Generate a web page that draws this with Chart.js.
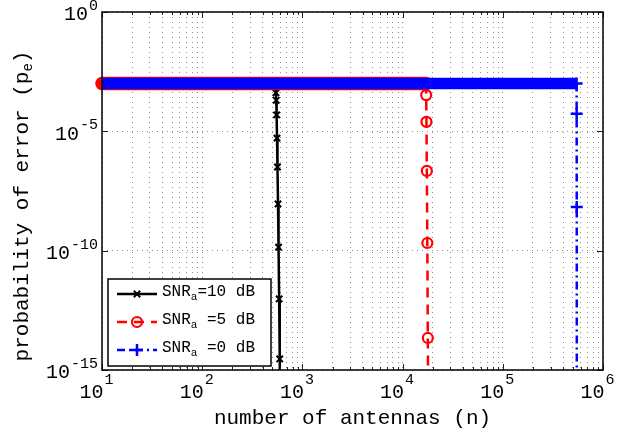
<!DOCTYPE html>
<html>
<head>
<meta charset="utf-8">
<script src="https://cdn.jsdelivr.net/npm/chart.js@4.4.1/dist/chart.umd.min.js"></script>
<style>
  html, body { margin: 0; padding: 0; background: #fff; }
  #chart-container { width: 623px; height: 434px; }
</style>
</head>
<body>
<div id="chart-container"><canvas id="errChart" width="623" height="434"></canvas></div>
<script>
// axis ticks
const xMajorTicks = [1e1, 1e2, 1e3, 1e4, 1e5, 1e6];
const xTickExp = ['1', '2', '3', '4', '5', '6'];
const xMinorSteps = [2, 3, 4, 5, 6, 7, 8, 9];
const yMajorTicks = [1e0, 1e-5, 1e-10, 1e-15];
const yTickExp = ['0', '-5', '-10', '-15'];

const xTitle = 'number of antennas (n)';
const yTitle = ['probability of error (p', 'e', ')'];

// series: legend names use "_" for the subscript
const seriesNames = ['SNR_a=10 dB', 'SNR_a =5 dB', 'SNR_a =0 dB'];

const snr10N = [10, 541, 544, 548, 553, 558, 564, 571, 578, 586, 594, 603];
const snr10P = [1e-3, 1e-3, 4.1e-4, 2.0e-4, 4.9e-5, 5.2e-6, 3.2e-7, 9.1e-9, 1.4e-10, 9.5e-13, 2.9e-15, 1e-18];

const snr5N = [10, 17100, 17200, 17300, 17450, 17650, 17850, 18100];
const snr5P = [1e-3, 1e-3, 3.3e-4, 2.5e-5, 2.2e-7, 2.1e-10, 2.2e-14, 1e-18];

const snr0N = [10, 545000, 546000, 547000, 548000];
const snr0P = [1e-3, 1e-3, 5.4e-5, 6.8e-9, 1e-18];

const FONT = '"Liberation Mono", "DejaVu Sans Mono", monospace';

function toPoints(xs, ys) {
  return xs.map((x, i) => ({ x: x, y: ys[i] }));
}

// the flat part is drawn as a thick band (the dense markers in the original)
function bandSegment(width, cap) {
  return {
    borderWidth: c => c.p0DataIndex === 0 ? width : undefined,
    borderCapStyle: c => c.p0DataIndex === 0 ? cap : undefined,
    borderDash: c => c.p0DataIndex === 0 ? [] : undefined
  };
}

const styles = [
  { color: '#000000', dash: [], point: 'crossRot', radius: 4.5, pw: 2 },
  { color: '#ff0000', dash: [10, 7], point: 'circle', radius: 5, pw: 2.2 },
  { color: '#0000ff', dash: [8, 4, 2, 4], point: 'cross', radius: 6, pw: 2.5 }
];

const overlay = {
  id: 'overlay',
  afterDraw(chart) {
    const ctx = chart.ctx;
    const a = chart.chartArea;
    const xs = chart.scales.x, ys = chart.scales.y;
    ctx.save();

    // inner tick marks
    ctx.strokeStyle = '#222';
    ctx.lineWidth = 1;
    ctx.beginPath();
    xMajorTicks.forEach((v, k) => {
      const px = Math.round(xs.getPixelForValue(v)) + 0.5;
      ctx.moveTo(px, a.bottom); ctx.lineTo(px, a.bottom - 6);
      ctx.moveTo(px, a.top); ctx.lineTo(px, a.top + 6);
      if (k < xMajorTicks.length - 1) {
        xMinorSteps.forEach(s => {
          const mx = Math.round(xs.getPixelForValue(v * s)) + 0.5;
          ctx.moveTo(mx, a.bottom); ctx.lineTo(mx, a.bottom - 3);
          ctx.moveTo(mx, a.top); ctx.lineTo(mx, a.top + 3);
        });
      }
    });
    yMajorTicks.forEach(v => {
      const py = Math.round(ys.getPixelForValue(v)) + 0.5;
      ctx.moveTo(a.left, py); ctx.lineTo(a.left + 6, py);
      ctx.moveTo(a.right, py); ctx.lineTo(a.right - 6, py);
    });
    ctx.stroke();

    // box
    ctx.strokeStyle = '#000';
    ctx.lineWidth = 1.5;
    ctx.strokeRect(a.left, a.top, a.right - a.left, a.bottom - a.top);

    // tick labels
    ctx.fillStyle = '#000';
    ctx.textBaseline = 'middle';
    xMajorTicks.forEach((v, k) => {
      const px = xs.getPixelForValue(v);
      ctx.font = '20px ' + FONT;
      const wb = ctx.measureText('10').width;
      ctx.font = '15px ' + FONT;
      const we = ctx.measureText(xTickExp[k]).width;
      const x0 = px - 6 - (wb + we) / 2;
      ctx.textAlign = 'left';
      ctx.font = '20px ' + FONT;
      ctx.fillText('10', x0, a.bottom + 23);
      ctx.font = '15px ' + FONT;
      ctx.fillText(xTickExp[k], x0 + wb + 1, a.bottom + 10);
    });
    yMajorTicks.forEach((v, k) => {
      const py = ys.getPixelForValue(v);
      ctx.font = '15px ' + FONT;
      ctx.textAlign = 'right';
      const we = ctx.measureText(yTickExp[k]).width;
      ctx.fillText(yTickExp[k], 98, py - 6);
      ctx.font = '20px ' + FONT;
      ctx.fillText('10', 98 - we - 1, py + 3);
    });

    // axis titles
    ctx.font = '21px ' + FONT;
    ctx.textAlign = 'center';
    ctx.fillText(xTitle, (a.left + a.right) / 2, 418);

    ctx.save();
    ctx.translate(22, 206);
    ctx.rotate(-Math.PI / 2);
    ctx.textAlign = 'left';
    ctx.font = '21px ' + FONT;
    const w0 = ctx.measureText(yTitle[0]).width;
    const w2 = ctx.measureText(yTitle[2]).width;
    ctx.font = '14px ' + FONT;
    const w1 = ctx.measureText(yTitle[1]).width;
    let tx = -(w0 + w1 + w2) / 2;
    ctx.font = '21px ' + FONT;
    ctx.fillText(yTitle[0], tx, 0);
    tx += w0;
    ctx.font = '14px ' + FONT;
    ctx.fillText(yTitle[1], tx, 6);
    tx += w1;
    ctx.font = '21px ' + FONT;
    ctx.fillText(yTitle[2], tx, 0);
    ctx.restore();

    // legend
    const lx = 108, ly = 279, lw = 163, lh = 87;
    ctx.fillStyle = '#fff';
    ctx.fillRect(lx, ly, lw, lh);
    ctx.strokeStyle = '#000';
    ctx.lineWidth = 1.5;
    ctx.strokeRect(lx, ly, lw, lh);
    seriesNames.forEach((name, i) => {
      const st = styles[i];
      const ry = 294 + i * 28;
      ctx.strokeStyle = st.color;
      ctx.lineWidth = 2.5;
      ctx.setLineDash(st.dash);
      ctx.lineDashOffset = 0;
      ctx.beginPath();
      ctx.moveTo(117, ry); ctx.lineTo(157, ry);
      ctx.stroke();
      ctx.setLineDash([]);
      ctx.fillStyle = 'rgba(0,0,0,0)';
      ctx.lineWidth = st.pw;
      Chart.helpers.drawPoint(ctx, { pointStyle: st.point, radius: st.radius, borderWidth: st.pw, rotation: 0 }, 137, ry);

      const parts = name.split('_');
      const main = parts[0], sub = parts[1].charAt(0), rest = parts[1].slice(1);
      ctx.fillStyle = '#000';
      ctx.textAlign = 'left';
      ctx.textBaseline = 'middle';
      let x = 162;
      ctx.font = '16px ' + FONT;
      ctx.fillText(main, x, ry - 2);
      x += ctx.measureText(main).width;
      ctx.font = '11px ' + FONT;
      ctx.fillText(sub, x, ry + 3);
      x += ctx.measureText(sub).width;
      ctx.font = '16px ' + FONT;
      ctx.fillText(rest, x, ry - 2);
    });
    ctx.restore();
  }
};

function makeDataset(i, xs, ys, bandWidth, cap, order) {
  const st = styles[i];
  return {
    label: seriesNames[i],
    data: toPoints(xs, ys),
    borderColor: st.color,
    borderWidth: 2.5,
    borderDash: st.dash,
    borderCapStyle: 'butt',
    pointStyle: st.point,
    pointRadius: c => c.dataIndex === 0 ? 0 : st.radius,
    pointBorderWidth: st.pw,
    pointBorderColor: st.color,
    pointBackgroundColor: 'rgba(0,0,0,0)',
    tension: 0,
    fill: false,
    segment: bandSegment(bandWidth, cap),
    order: order,
    clip: { left: 8, top: 0, right: 0, bottom: 0 }
  };
}

const ctx = document.getElementById('errChart').getContext('2d');
const errChart = new Chart(ctx, {
  type: 'line',
  data: {
    datasets: [
      makeDataset(0, snr10N, snr10P, 8, 'butt', 3),
      makeDataset(1, snr5N, snr5P, 13.5, 'round', 2),
      makeDataset(2, snr0N, snr0P, 11.5, 'butt', 1)
    ]
  },
  options: {
    responsive: false,
    animation: false,
    devicePixelRatio: 1,
    events: [],
    layout: { padding: { left: 102, top: 12, right: 20, bottom: 64 } },
    plugins: { legend: { display: false }, tooltip: { enabled: false } },
    scales: {
      x: {
        type: 'logarithmic',
        min: 1e1,
        max: 1e6,
        afterBuildTicks: scale => {
          const t = [];
          xMajorTicks.forEach((v, k) => {
            t.push({ value: v });
            if (k < xMajorTicks.length - 1) xMinorSteps.forEach(s => t.push({ value: v * s }));
          });
          scale.ticks = t;
        },
        ticks: { display: false },
        grid: { color: '#8f8f8f', lineWidth: 1, drawTicks: false },
        border: { display: false, dash: [1, 4] }
      },
      y: {
        type: 'logarithmic',
        min: 1e-15,
        max: 1e0,
        afterBuildTicks: scale => {
          scale.ticks = yMajorTicks.map(v => ({ value: v }));
        },
        ticks: { display: false },
        grid: { color: '#8f8f8f', lineWidth: 1, drawTicks: false },
        border: { display: false, dash: [1, 4] }
      }
    }
  },
  plugins: [overlay]
});
</script>
</body>
</html>
